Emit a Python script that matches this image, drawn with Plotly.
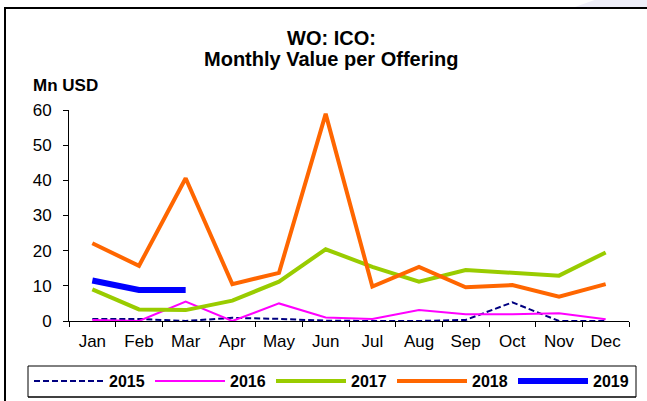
import plotly.graph_objects as go

months = ["Jan", "Feb", "Mar", "Apr", "May", "Jun", "Jul", "Aug", "Sep", "Oct", "Nov", "Dec"]
v2015 = [0.6, 0.6, 0.0, 0.9, 0.6, 0.1, 0.0, 0.0, 0.3, 5.3, 0.0, 0.0]
v2016 = [0.3, 0.0, 5.5, 0.0, 5.0, 1.0, 0.6, 3.1, 1.9, 1.9, 2.2, 0.5]
v2017 = [9.0, 3.3, 3.1, 5.8, 11.2, 20.4, 15.4, 11.2, 14.5, 13.8, 12.9, 19.5]
v2018 = [22.1, 15.7, 40.6, 10.5, 13.7, 58.9, 9.8, 15.4, 9.6, 10.2, 6.9, 10.5]
v2019 = [11.5, 8.8, 8.8]
y_ticks = [0, 10, 20, 30, 40, 50, 60]

FONT = "Liberation Sans, Arial, sans-serif"
W, H = 647, 401
L, R, T, B = 69, 18, 110, 80
PW, PH = W - L - R, H - T - B


def px(x):
    return (x - L) / PW


def py(y):
    return (H - B - y) / PH


fig = go.Figure()
fig.add_trace(go.Scatter(x=months, y=v2015, name="2015", mode="lines",
                         line=dict(color="#000080", width=2, dash="6px,3px")))
fig.add_trace(go.Scatter(x=months, y=v2016, name="2016", mode="lines",
                         line=dict(color="#FF00FF", width=2)))
fig.add_trace(go.Scatter(x=months, y=v2017, name="2017", mode="lines",
                         line=dict(color="#99CC00", width=4)))
fig.add_trace(go.Scatter(x=months, y=v2018, name="2018", mode="lines",
                         line=dict(color="#FF6600", width=4)))
fig.add_trace(go.Scatter(x=months[:len(v2019)], y=v2019, name="2019", mode="lines",
                         line=dict(color="#0000FF", width=6)))

box_l, box_r, box_t, box_b = 28, 636, 366, 397

fig.update_layout(
    width=W, height=H,
    margin=dict(l=L, r=R, t=T, b=B, autoexpand=False),
    paper_bgcolor="white", plot_bgcolor="white",
    font=dict(family=FONT, size=17, color="black"),
    showlegend=True,
    legend=dict(orientation="h", xref="paper", yref="paper",
                x=px(29), xanchor="left",
                y=py(381), yanchor="middle",
                bgcolor="rgba(0,0,0,0)", borderwidth=0,
                itemwidth=70,
                entrywidth=36, entrywidthmode="pixels",
                font=dict(family=FONT, size=16, color="black", weight="bold"),
                itemclick=False, itemdoubleclick=False),
    xaxis=dict(type="category", range=[-0.5, 11.5], showgrid=False,
               showline=True, linecolor="black", linewidth=1,
               ticks="outside", tickson="boundaries", ticklen=5, tickcolor="black",
               ticklabelstandoff=5,
               tickfont=dict(size=17), fixedrange=True),
    yaxis=dict(range=[0, 60], tickvals=y_ticks, showgrid=False, zeroline=False,
               showline=True, linecolor="black", linewidth=1,
               ticks="outside", ticklen=5, tickcolor="black",
               ticklabelstandoff=8,
               tickfont=dict(size=17), fixedrange=True),
    annotations=[
        dict(text="<b>WO: ICO:</b>", xref="paper", yref="paper",
             x=px(331), y=py(38), xanchor="center", yanchor="middle",
             showarrow=False, font=dict(family=FONT, size=20, color="black")),
        dict(text="<b>Monthly Value per Offering</b>", xref="paper", yref="paper",
             x=px(331), y=py(59), xanchor="center", yanchor="middle",
             showarrow=False, font=dict(family=FONT, size=20, color="black")),
        dict(text="<b>Mn USD</b>", xref="paper", yref="paper",
             x=px(31), y=py(85), xanchor="left", yanchor="middle",
             showarrow=False, font=dict(family=FONT, size=17, color="black")),
    ],
    shapes=[
        dict(type="path", xref="paper", yref="paper",
             path=f"M {px(575)},{py(7)} L {px(600)},{py(-2)} L {px(650)},{py(-2)} L {px(650)},{py(7)} Z",
             fillcolor="#EEEEF8", line=dict(width=0), layer="below"),
        dict(type="rect", xref="paper", yref="paper",
             x0=px(5), x1=px(660), y0=py(420), y1=py(8),
             line=dict(color="black", width=2), layer="below"),
        dict(type="line", xref="paper", yref="paper",
             x0=px(box_l), x1=px(box_r), y0=py(box_t), y1=py(box_t),
             line=dict(color="black", width=1), layer="above"),
        dict(type="line", xref="paper", yref="paper",
             x0=px(box_l), x1=px(box_r), y0=py(box_b), y1=py(box_b),
             line=dict(color="black", width=1.5), layer="above"),
        dict(type="line", xref="paper", yref="paper",
             x0=px(box_l), x1=px(box_l), y0=py(box_t), y1=py(box_b),
             line=dict(color="black", width=1), layer="above"),
        dict(type="line", xref="paper", yref="paper",
             x0=px(box_r), x1=px(box_r), y0=py(box_t), y1=py(box_b),
             line=dict(color="black", width=1), layer="above"),
    ],
)

fig.write_html("out.html", config={"displayModeBar": False},
               post_script="document.body.style.margin='0';")
